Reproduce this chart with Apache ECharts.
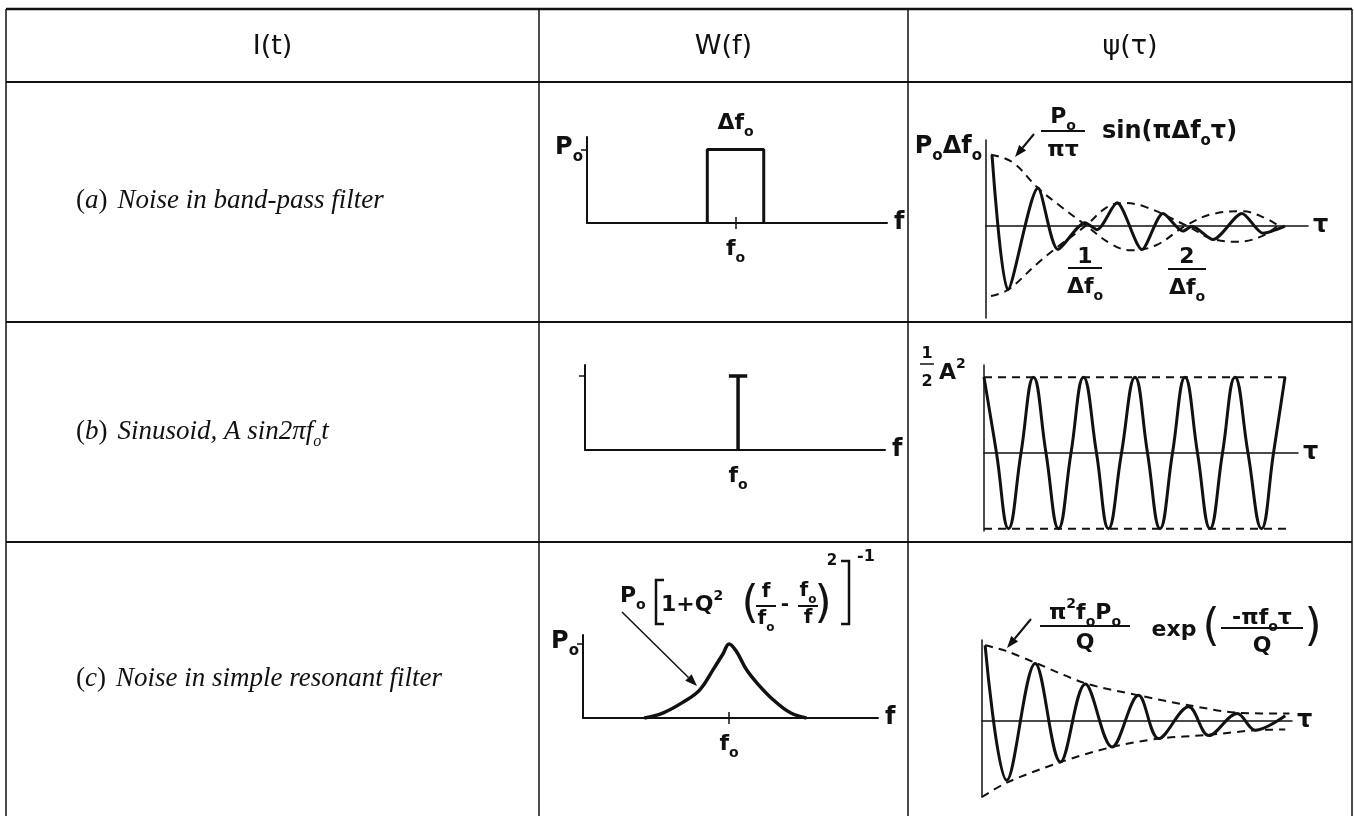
<!DOCTYPE html>
<html>
<head>
<meta charset="utf-8">
<script src="https://cdn.jsdelivr.net/npm/echarts@6/dist/echarts.min.js"></script>
<style>
  html, body { margin: 0; padding: 0; background: #fff; }
  #chart { width: 1354px; height: 816px; }
</style>
</head>
<body>
<div id="chart"></div>
<script>
// ---------------- data ----------------
const headers = ['I(t)', 'W(f)', 'ψ(τ)'];

// (a) band-pass filter: rectangular spectrum (f in units of f0, W in units of P0)
const bandF = [0.81, 0.81, 1.19, 1.19];
const bandW = [0, 1, 1, 0];
// (a) autocorrelation (τ in units of 1/Δf0, ψ in units of P0Δf0)
const bpTau = [0.06, 0.22, 0.52, 0.72, 0.99, 1.11, 1.31, 1.56, 1.77, 1.97, 2.06, 2.27, 2.56, 2.77, 2.99];
const bpPsi = [1.0, -0.91, 0.53, -0.34, 0.04, -0.06, 0.32, -0.34, 0.17, -0.08, -0.01, -0.20, 0.17, -0.11, -0.01];
const bpEnvUpTau = [0.05, 0.26, 0.52, 0.72, 1.0, 1.26, 1.45, 1.70, 2.0, 2.29, 2.56, 2.80, 2.92];
const bpEnvUpPsi = [1.0, 0.90, 0.53, 0.30, 0, -0.27, -0.35, -0.28, 0, 0.17, 0.20, 0.10, 0];
const bpEnvLoTau = [0.05, 0.22, 0.52, 0.72, 1.0, 1.20, 1.36, 1.60, 2.0, 2.29, 2.52, 2.76, 2.92];
const bpEnvLoPsi = [-1.0, -0.91, -0.53, -0.30, 0, 0.25, 0.32, 0.26, 0, -0.20, -0.23, -0.15, 0];

// (b) sinusoid: line spectrum at f0 and cosine autocorrelation (τ in units of 1/f0)
const lineF = [1, 1, 0.94, 1.06];
const lineW = [0, 1, 1, 1];
const sinTau = [0.0, 0.25, 0.49, 0.74, 0.99, 1.24, 1.49, 1.74, 1.99, 2.25, 2.49, 2.75, 3.02,
                3.27, 3.52, 3.77, 4.02, 4.27, 4.52, 4.77, 5.02, 5.28, 5.55, 5.79, 6.02];
const sinPsi = [1, 0, -1, 0, 1, 0, -1, 0, 1, 0, -1, 0, 1, 0, -1, 0, 1, 0, -1, 0, 1, 0, -1, 0, 1];
const sinEnvTau = [0, 6.09];
const sinEnvUp = [1, 1];
const sinEnvLo = [-1, -1];

// (c) simple resonant filter: resonance curve and damped cosine
const resF = [0.42, 0.55, 0.69, 0.80, 0.89, 0.96, 1.0, 1.05, 1.12, 1.21, 1.30, 1.42, 1.53];
const resW = [0, 0.07, 0.22, 0.38, 0.65, 0.87, 1.0, 0.90, 0.65, 0.43, 0.25, 0.07, 0];
const rTau = [0.06, 0.48, 1.03, 1.52, 2.0, 2.52, 3.03, 3.42, 4.0, 4.39, 4.94, 5.29, 5.87];
const rPsi = [1.0, -0.78, 0.76, -0.54, 0.49, -0.34, 0.34, -0.23, 0.19, -0.19, 0.10, -0.12, 0.07];
const rEnvUpTau = [0.06, 0.45, 1.03, 2.0, 3.03, 4.0, 4.97, 5.95];
const rEnvUpPsi = [1.0, 0.93, 0.77, 0.50, 0.34, 0.21, 0.11, 0.10];
const rEnvLoTau = [0.0, 0.48, 1.52, 2.52, 3.42, 4.39, 5.29, 5.87];
const rEnvLoPsi = [-1.0, -0.81, -0.54, -0.34, -0.23, -0.18, -0.12, -0.11];

// ---------------- style ----------------
const INK = '#111';
const LET = "'DejaVu Sans', sans-serif";
const SER = "'Liberation Serif', 'Times New Roman', serif";

const zip = (a, b) => a.map((v, i) => [v, b[i]]);

function richSet(size, weight) {
  const sub = Math.round(size * 0.62);
  return {
    n: { fontFamily: LET, fontSize: size, fontWeight: weight, color: INK, fill: INK, lineHeight: size + 10 },
    s: { fontFamily: LET, fontSize: sub, fontWeight: weight, color: INK, fill: INK, verticalAlign: 'bottom' },
    p: { fontFamily: LET, fontSize: sub, fontWeight: weight, color: INK, fill: INK, verticalAlign: 'top' }
  };
}
const R22 = richSet(22, 'bold');
const R24 = richSet(24, 'bold');
const R20 = richSet(20, 'bold');

const nameStyle = (padBottom) => ({
  fontFamily: LET, fontSize: 24, fontWeight: 'bold', color: INK,
  padding: [0, 0, padBottom, 0]
});

// ---------------- layout ----------------
const grids = [
  { left: 587, top: 137, width: 300, height: 86 },   // (a) W
  { left: 986, top: 140, width: 322, height: 178 },  // (a) ψ
  { left: 585, top: 365, width: 300, height: 85 },   // (b) W
  { left: 984, top: 365, width: 314, height: 166 },  // (b) ψ
  { left: 583, top: 635, width: 295, height: 83 },   // (c) W
  { left: 982, top: 640, width: 310, height: 157 }   // (c) ψ
].map(g => Object.assign({ containLabel: false, outerBoundsMode: 'none' }, g));

const ranges = [
  { x: [0, 2.02], y: [0, 1.17] },
  { x: [0, 3.22], y: [-1.31, 1.21] },
  { x: [0, 1.96], y: [0, 1.15] },
  { x: [0, 6.28], y: [-1.03, 1.16] },
  { x: [0, 2.02], y: [0, 1.12] },
  { x: [0, 6.0], y: [-1.0, 1.07] }
];

const axisLineW = { color: INK, width: 2 };
const axisLinePsi = { color: INK, width: 1.5 };

function spectrumX(g, withTick) {
  return {
    type: 'value', gridIndex: g, min: ranges[g].x[0], max: ranges[g].x[1],
    axisLine: { onZero: false, lineStyle: axisLineW },
    axisTick: { show: withTick, customValues: [1], length: 6, lineStyle: { color: INK, width: 1.5 } },
    axisLabel: { customValues: [1], margin: 10, formatter: () => '{n|f}{s|o}', rich: R22 },
    splitLine: { show: false },
    name: 'f', nameLocation: 'end', nameGap: 7, nameMoveOverlap: false, nameTextStyle: nameStyle(4)
  };
}
function upTickX(g) {
  return {
    type: 'value', gridIndex: g, min: ranges[g].x[0], max: ranges[g].x[1], position: 'bottom',
    axisLine: { show: false, onZero: false },
    axisTick: { show: true, inside: true, customValues: [1], length: 6, lineStyle: { color: INK, width: 1.5 } },
    axisLabel: { show: false }, splitLine: { show: false }
  };
}
function lagX(g, padBottom) {
  return {
    type: 'value', gridIndex: g, min: ranges[g].x[0], max: ranges[g].x[1],
    axisLine: { onZero: true, lineStyle: axisLinePsi },
    axisTick: { show: false }, axisLabel: { show: false }, splitLine: { show: false },
    name: 'τ', nameLocation: 'end', nameGap: 5, nameMoveOverlap: false, nameTextStyle: nameStyle(padBottom)
  };
}
function valueY(g, tick, label, lineStyle, labelPad) {
  return {
    type: 'value', gridIndex: g, min: ranges[g].y[0], max: ranges[g].y[1],
    axisLine: { show: true, onZero: false, lineStyle: lineStyle },
    axisTick: { show: tick, customValues: [1], length: 6, lineStyle: { color: INK, width: 1.5 } },
    axisLabel: label
      ? { show: true, customValues: [1], margin: 4, formatter: () => label, rich: R24,
          padding: [0, 0, labelPad || 0, 0] }
      : { show: false },
    splitLine: { show: false }
  };
}

const solid = (w) => ({ color: INK, width: w, type: 'solid' });
const dashed = { color: INK, width: 2, type: [8, 6] };

function curve(g, data, lineStyle, smooth) {
  return {
    type: 'line', xAxisIndex: g, yAxisIndex: g, data: data, symbol: 'none', smooth: smooth,
    lineStyle: lineStyle, clip: false, silent: true, z: 3
  };
}

// ---------------- annotations ----------------
function txt(x, y, text, rich, align) {
  return {
    type: 'text', x: x, y: y, z: 10, silent: true,
    style: { text: text, rich: rich, fill: INK, align: align || 'center', verticalAlign: 'middle' }
  };
}
function plain(x, y, text, size, weight, family, align) {
  return {
    type: 'text', x: x, y: y, z: 10, silent: true,
    style: { text: text, fill: INK, fontFamily: family || LET, fontSize: size, fontWeight: weight || 'normal',
             align: align || 'center', verticalAlign: 'middle' }
  };
}
function seg(x1, y1, x2, y2, w) {
  return { type: 'line', z: 10, silent: true, shape: { x1, y1, x2, y2 }, style: { stroke: INK, lineWidth: w } };
}
function poly(points, w) {
  return { type: 'polyline', z: 10, silent: true, shape: { points }, style: { stroke: INK, lineWidth: w, fill: null } };
}
function frac(cx, numY, barY, denY, half, num, den, rich, barW) {
  return [txt(cx, numY, num, rich), seg(cx - half, barY, cx + half, barY, barW || 2), txt(cx, denY, den, rich)];
}
function arrow(x1, y1, x2, y2, w) {
  const a = Math.atan2(y2 - y1, x2 - x1), L = 12, W = 4.5;
  const bx = x2 - L * Math.cos(a), by = y2 - L * Math.sin(a);
  const px = -Math.sin(a) * W, py = Math.cos(a) * W;
  return [
    seg(x1, y1, bx, by, w),
    { type: 'polygon', z: 10, silent: true, shape: { points: [[x2, y2], [bx + px, by + py], [bx - px, by - py]] },
      style: { fill: INK } }
  ];
}

const tableX = [6, 539, 908, 1352];
const tableY = [9, 82, 322, 542];
const rowMid = [201, 432, 679];

const serRich = {
  u: { fontFamily: SER, fontSize: 27, fill: INK, color: INK, lineHeight: 36 },
  i: { fontFamily: SER, fontSize: 27, fontStyle: 'italic', fill: INK, color: INK, lineHeight: 36 },
  o: { fontFamily: SER, fontSize: 16, fontStyle: 'italic', fill: INK, color: INK, verticalAlign: 'bottom' }
};
const rowLabels = [
  '{u|(}{i|a}{u|)}   {i|Noise in band-pass filter}',
  '{u|(}{i|b}{u|)}   {i|Sinusoid, A sin2πf}{o|o}{i|t}',
  '{u|(}{i|c}{u|)}   {i|Noise in simple resonant filter}'
];

const elements = [];
// table rules
tableY.forEach((y, i) => elements.push(seg(tableX[0], y, tableX[3], y, i === 0 ? 2.5 : 2)));
tableX.forEach(x => elements.push(seg(x, tableY[0], x, 816, 1.5)));
// column headings
headers.forEach((h, i) => elements.push(
  plain((tableX[i] + tableX[i + 1]) / 2, (tableY[0] + tableY[1]) / 2 + 1, h, 27, 'normal')));
// row descriptions
rowLabels.forEach((t, i) => elements.push(txt(76, rowMid[i], t, serRich, 'left')));

// (a) ψ : envelope formula and 1/Δf0, 2/Δf0 markers
elements.push(...frac(1063, 117, 131, 150, 22, '{n|P}{s|o}', '{n|πτ}', R22));
elements.push(txt(1102, 132, '{n|sin(πΔf}{s|o}{n|τ)}', R24, 'left'));
elements.push(...arrow(1034, 134, 1015, 157, 2));
elements.push(...frac(1085, 257, 268, 287, 17, '{n|1}', '{n|Δf}{s|o}', R22));
elements.push(...frac(1187, 257, 269, 288, 19, '{n|2}', '{n|Δf}{s|o}', R22));

// (b) ψ : ½A² level
elements.push(...frac(927, 354, 364, 382, 7, '{p|1}', '{p|2}', richSet(25, 'bold'), 1.5));
elements.push(txt(939, 373, '{n|A}{p|2}', R22, 'left'));

// (c) W : resonance formula
elements.push(txt(620, 596, '{n|P}{s|o}', R22, 'left'));
elements.push(poly([[664, 580], [656, 580], [656, 624], [664, 624]], 2.5));
elements.push(txt(661, 605, '{n|1+Q}{p|2}', R22, 'left'));
elements.push(plain(750, 606, '(', 44, 'normal'));
elements.push(...frac(766, 592, 606, 619, 10, '{n|f}', '{n|f}{s|o}', R20));
elements.push(plain(785, 605, '-', 20, 'bold'));
elements.push(...frac(808, 591, 606, 618, 10, '{n|f}{s|o}', '{n|f}', R20));
elements.push(plain(823, 606, ')', 44, 'normal'));
elements.push(plain(832, 561, '2', 15, 'bold'));
elements.push(poly([[841, 561], [849, 561], [849, 624], [841, 624]], 2.5));
elements.push(plain(866, 557, '-1', 16, 'bold'));
elements.push(...arrow(622, 612, 697, 686, 1.5));

// (c) ψ : exponential envelope formula
elements.push(...frac(1085, 613, 626, 643, 45, '{n|π}{p|2}{n|f}{s|o}{n|P}{s|o}', '{n|Q}', R22));
elements.push(plain(1174, 630, 'exp', 22, 'bold'));
elements.push(plain(1211, 629, '(', 44, 'normal'));
elements.push(...frac(1262, 618, 628, 646, 41, '{n|-πf}{s|o}{n|τ}', '{n|Q}', R22));
elements.push(plain(1313, 629, ')', 44, 'normal'));
elements.push(...arrow(1031, 619, 1007, 648, 2));

// ---------------- chart ----------------
const chart = echarts.init(document.getElementById('chart'), null, { renderer: 'canvas' });
chart.setOption({
  animation: false,
  backgroundColor: '#fff',
  grid: grids,
  xAxis: [
    spectrumX(0, true),
    lagX(1, 22),
    spectrumX(2, false),
    lagX(3, 20),
    spectrumX(4, true),
    lagX(5, 34),
    upTickX(0),
    upTickX(4)
  ],
  yAxis: [
    valueY(0, true, '{n|P}{s|o}', axisLineW, 4),
    valueY(1, false, '{n|P}{s|o}{n|Δf}{s|o}', axisLinePsi, 16),
    valueY(2, true, null, axisLineW),
    valueY(3, false, null, axisLinePsi),
    valueY(4, true, '{n|P}{s|o}', axisLineW, 4),
    valueY(5, false, null, axisLinePsi)
  ],
  series: [
    // (a)
    curve(0, zip(bandF, bandW), solid(3), false),
    {
      // band-width label sitting on the top edge of the pass band
      type: 'scatter', xAxisIndex: 0, yAxisIndex: 0, silent: true, symbolSize: 1, z: 2,
      itemStyle: { color: INK, opacity: 1 },
      data: [[(bandF[1] + bandF[2]) / 2, bandW[1]]],
      label: { show: true, position: 'top', distance: 10, color: INK, opacity: 1,
               formatter: '{n|Δf}{s|o}', rich: R22 }
    },
    curve(1, zip(bpTau, bpPsi), solid(3), 0.25),
    curve(1, zip(bpEnvUpTau, bpEnvUpPsi), dashed, 0.4),
    curve(1, zip(bpEnvLoTau, bpEnvLoPsi), dashed, 0.4),
    // (b)
    curve(2, zip(lineF, lineW), solid(3.5), false),
    curve(3, zip(sinTau, sinPsi), solid(3), 0.45),
    curve(3, zip(sinEnvTau, sinEnvUp), dashed, false),
    curve(3, zip(sinEnvTau, sinEnvLo), dashed, false),
    // (c)
    curve(4, zip(resF, resW), solid(3.5), 0.4),
    curve(5, zip(rTau, rPsi), solid(3), 0.35),
    curve(5, zip(rEnvUpTau, rEnvUpPsi), dashed, 0.3),
    curve(5, zip(rEnvLoTau, rEnvLoPsi), dashed, 0.3)
  ],
  graphic: { elements: elements }
});
</script>
</body>
</html>
